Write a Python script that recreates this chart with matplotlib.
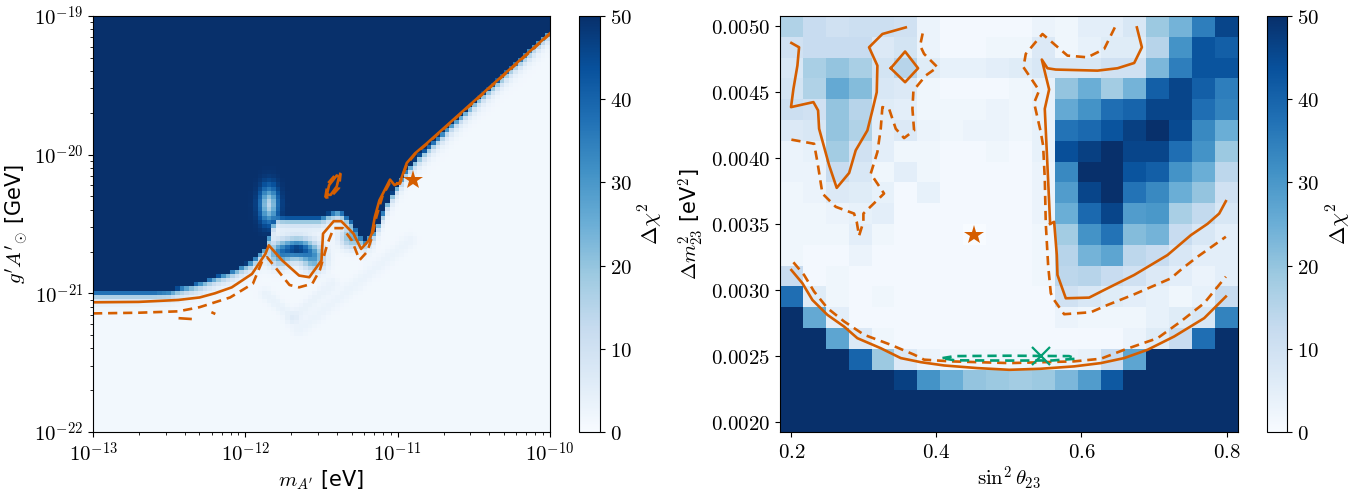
import numpy as np
import matplotlib
matplotlib.use("Agg")
import matplotlib.pyplot as plt
from matplotlib.ticker import FuncFormatter, FixedLocator, NullFormatter

plt.rcParams['mathtext.fontset'] = 'cm'
plt.rcParams['font.family'] = ['DejaVu Sans']
plt.rcParams['font.size'] = 15

ORANGE = '#D55E00'
GREEN = '#029E73'
DASH = (0, (3.5, 2.2))

# ------------------------------------------------------------------
# LEFT PANEL data (log10 m [eV], log10 g [GeV])
edge_lm = [-13.0, -12.6, -12.5, -12.44, -12.3, -12.1, -11.95, -11.87, -11.80,
           -11.65, -11.50, -11.45, -11.38, -11.30, -11.22, -11.15, -11.05,
           -10.95, -10.90, -10.5, -10.0]
edge_lg = [-20.985, -20.985, -20.98, -20.96, -20.92, -20.84, -20.76, -20.66, -20.45,
           -20.45, -20.45, -20.42, -20.40, -20.48, -20.62, -20.55, -20.30,
           -20.12, -20.05, -19.62, -19.10]
# extra structure near the saturated edge: (log m, log g, width m, width g, change)
blobs = [(-11.845, -20.36, 0.04, 0.085, -36.0),
         (-11.66, -20.68, 0.07, 0.05, 45.0),
         (-11.55, -20.75, 0.05, 0.06, 25.0),
         (-11.78, -20.72, 0.05, 0.06, 25.0),
         (-11.30, -20.60, 0.05, 0.05, 22.0)]
# faint shadow bands in the allowed region: (start point, end point, width, value)
faint_bands = [((-11.87, -21.00), (-11.69, -21.18), 0.03, 2.5),
               ((-11.69, -21.18), (-11.43, -20.93), 0.03, 2.5),
               ((-11.65, -21.27), (-10.92, -20.62), 0.035, 2.0)]
background = 1.2

solid_main = [(-13.0, -21.065), (-12.7, -21.062), (-12.44, -21.048), (-12.3, -21.03),
              (-12.2, -21.0), (-12.089, -20.957), (-11.956, -20.86), (-11.868, -20.715),
              (-11.846, -20.654), (-11.758, -20.763), (-11.647, -20.872), (-11.58, -20.884),
              (-11.50, -20.763), (-11.49, -20.57), (-11.42, -20.48), (-11.37, -20.48),
              (-11.29, -20.57), (-11.24, -20.68), (-11.19, -20.62), (-11.17, -20.57),
              (-11.15, -20.45), (-11.12, -20.33), (-11.05, -20.18), (-11.02, -20.22),
              (-10.985, -20.20), (-10.94, -20.06), (-10.885, -19.99), (-10.81, -19.92),
              (-10.0, -19.125)]
dashed_main = [(-13.0, -21.145), (-12.7, -21.14), (-12.44, -21.13), (-12.3, -21.10),
               (-12.1, -21.03), (-11.95, -20.93), (-11.89, -20.77), (-11.857, -20.74),
               (-11.71, -20.94), (-11.647, -20.957), (-11.56, -20.93), (-11.51, -20.83),
               (-11.46, -20.64), (-11.42, -20.53), (-11.36, -20.53), (-11.30, -20.62),
               (-11.25, -20.76), (-11.20, -20.70), (-11.17, -20.60), (-11.14, -20.45),
               (-11.10, -20.30), (-11.05, -20.20), (-10.985, -20.21), (-10.94, -20.07),
               (-10.885, -19.995), (-10.81, -19.925), (-10.0, -19.13)]
solid_island = [(-11.465, -20.29), (-11.45, -20.22), (-11.40, -20.15), (-11.385, -20.16),
                (-11.40, -20.23), (-11.44, -20.29), (-11.465, -20.29)]
dashed_island = [(-11.475, -20.31), (-11.46, -20.21), (-11.40, -20.135), (-11.375, -20.14),
                 (-11.385, -20.24), (-11.44, -20.305), (-11.475, -20.31)]
dashed_blob1 = [(-12.43, -21.18), (-12.36, -21.185)]
dashed_blob2 = [(-12.215, -21.14), (-12.205, -21.145)]
star_left = (-10.90, -20.18)
left_xticks = [1e-13, 1e-12, 1e-11, 1e-10]
left_yticks = [1e-22, 1e-21, 1e-20, 1e-19]

# ------------------------------------------------------------------
# RIGHT PANEL data
sin2_centres = np.linspace(0.2, 0.8, 20)
dm2_centres = np.linspace(0.002, 0.005, 20)
# rows listed from top (dm2 = 0.005) to bottom (dm2 = 0.002)
chi2_rows = [
    [16, 12, 10, 11, 11, 10, 3, 1, 1, 1, 1, 3, 2, 5, 5, 8, 19, 24, 35, 46],
    [10, 12, 12, 12, 7, 9, 3, 1, 1, 2, 2, 7, 2, 4, 6, 6, 15, 31, 43, 41],
    [8, 17, 20, 17, 9, 15, 6, 4, 4, 5, 6, 8, 8, 8, 10, 10, 23, 35, 43, 43],
    [9, 16, 26, 22, 8, 7, 2, 1, 1, 1, 2, 4, 20, 25, 18, 24, 41, 46, 41, 35],
    [11, 10, 20, 15, 6, 5, 2, 2, 2, 3, 2, 4, 26, 31, 38, 40, 46, 46, 38, 34],
    [7, 8, 20, 16, 5, 7, 3, 2, 3, 3, 2, 4, 37, 39, 43, 47, 50, 45, 33, 25],
    [3, 4, 18, 10, 5, 2, 2, 1, 1, 2, 1, 4, 44, 47, 50, 46, 46, 38, 31, 19],
    [3, 3, 12, 8, 2, 5, 2, 1, 1, 1, 1, 3, 33, 50, 50, 43, 41, 31, 25, 14],
    [2, 3, 7, 6, 4, 1, 4, 1, 1, 1, 1, 3, 29, 46, 50, 37, 33, 25, 20, 10],
    [2, 2, 3, 4, 5, 1, 1, 1, 1, 1, 1, 3, 25, 39, 46, 29, 30, 17, 13, 8],
    [2, 2, 2, 5, 2, 1, 1, 1, 0, 1, 1, 2, 18, 31, 37, 22, 24, 12, 8, 5],
    [2, 1, 1, 3, 1, 1, 1, 1, 1, 1, 1, 2, 15, 24, 27, 14, 12, 8, 5, 5],
    [12, 1, 2, 1, 1, 1, 1, 1, 1, 1, 1, 2, 14, 15, 12, 10, 7, 5, 3, 5],
    [38, 6, 2, 1, 2, 1, 1, 1, 1, 1, 1, 1, 10, 8, 6, 5, 4, 2, 4, 12],
    [50, 26, 5, 1, 1, 1, 1, 1, 1, 1, 1, 1, 3, 2, 2, 2, 4, 6, 8, 34],
    [50, 50, 27, 7, 2, 1, 1, 1, 1, 1, 1, 1, 1, 1, 1, 3, 6, 12, 38, 50],
    [50, 50, 50, 40, 19, 7, 3, 2, 2, 2, 2, 2, 3, 4, 12, 27, 50, 50, 50, 50],
    [50, 50, 50, 50, 50, 47, 31, 25, 20, 19, 18, 19, 23, 29, 42, 50, 50, 50, 50, 50],
    [50] * 20,
    [50] * 20,
]
r_solid_tl = [(0.200, 0.004874), (0.2106, 0.004841), (0.2083, 0.004702), (0.2028, 0.004525),
              (0.1995, 0.004387), (0.2304, 0.004425), (0.2368, 0.004362), (0.2382, 0.004223),
              (0.2520, 0.003946), (0.2625, 0.003774), (0.2796, 0.003887), (0.2887, 0.004059),
              (0.3048, 0.004210), (0.3117, 0.004362), (0.3177, 0.004500), (0.3186, 0.004702),
              (0.3071, 0.004841), (0.3255, 0.004942), (0.3577, 0.004992)]
r_solid_diamond = [(0.337, 0.004682), (0.3568, 0.004809), (0.3747, 0.004682),
                   (0.3568, 0.004576), (0.337, 0.004682)]
r_dashed_tl = [(0.200, 0.004140), (0.2313, 0.004109), (0.2359, 0.003970), (0.2428, 0.003731),
               (0.2612, 0.003630), (0.2864, 0.003579), (0.2901, 0.003516), (0.2933, 0.003410),
               (0.2993, 0.003516), (0.2993, 0.003579), (0.3278, 0.003731), (0.3094, 0.003882),
               (0.3186, 0.004046), (0.3232, 0.004223), (0.3255, 0.004387), (0.3347, 0.004374),
               (0.3439, 0.004223), (0.3554, 0.004152), (0.3692, 0.004210), (0.3669, 0.004374),
               (0.3683, 0.004513), (0.3853, 0.004627), (0.4014, 0.004690), (0.3830, 0.004791),
               (0.3775, 0.004854), (0.3821, 0.004975)]
r_solid_right = [(0.5568, 0.003501), (0.5522, 0.004046), (0.5494, 0.004374), (0.5554, 0.004521),
                 (0.5453, 0.004748), (0.5531, 0.004682), (0.5646, 0.004672), (0.6221, 0.004664),
                 (0.6497, 0.004682), (0.6727, 0.004722), (0.6833, 0.004841), (0.6764, 0.004992)]
r_solid_right_low = [(0.5568, 0.003501), (0.5623, 0.003516), (0.5660, 0.003264),
                     (0.5669, 0.003113), (0.5784, 0.002936), (0.6106, 0.002941),
                     (0.6313, 0.002999), (0.6727, 0.003113), (0.7186, 0.003264),
                     (0.7508, 0.003415), (0.7738, 0.003501), (0.7899, 0.003579),
                     (0.7991, 0.003673)]
r_dashed_right = [(0.6460, 0.004992), (0.6313, 0.004828), (0.6083, 0.004765), (0.5807, 0.004778),
                  (0.5462, 0.004942), (0.5232, 0.004791), (0.5200, 0.004690), (0.5324, 0.004589),
                  (0.5416, 0.004513), (0.5347, 0.004419), (0.5439, 0.004197), (0.5471, 0.004096),
                  (0.5494, 0.003844), (0.5508, 0.003501), (0.5540, 0.003188), (0.5577, 0.002974),
                  (0.5623, 0.002923), (0.5761, 0.002815), (0.6129, 0.002830), (0.6359, 0.002885),
                  (0.6727, 0.002966), (0.7232, 0.003087), (0.7393, 0.003163), (0.7600, 0.003251),
                  (0.7991, 0.003403)]
r_solid_bottom = [(0.200, 0.003150), (0.2152, 0.003050), (0.2290, 0.002923), (0.2497, 0.002810),
                  (0.2727, 0.002721), (0.2910, 0.002633), (0.3232, 0.002557), (0.3508, 0.002482),
                  (0.3784, 0.002451), (0.4106, 0.002426), (0.4566, 0.002406), (0.5007, 0.002393),
                  (0.5439, 0.002401), (0.5899, 0.002419), (0.6267, 0.002444), (0.6589, 0.002482),
                  (0.6911, 0.002545), (0.7278, 0.002646), (0.7692, 0.002785), (0.7991, 0.002949)]
r_dashed_bottom = [(0.2028, 0.003209), (0.2175, 0.003113), (0.2313, 0.002987), (0.2497, 0.002861),
                   (0.2727, 0.002760), (0.3002, 0.002659), (0.3370, 0.002583), (0.3692, 0.002508),
                   (0.3830, 0.002470), (0.4198, 0.002457), (0.5007, 0.002444), (0.5899, 0.002457),
                   (0.6267, 0.002477), (0.6589, 0.002545), (0.7049, 0.002633), (0.7370, 0.002760),
                   (0.7692, 0.002899), (0.7991, 0.003100)]
green_contour = [(0.4083, 0.002482), (0.425, 0.002497), (0.50, 0.002500), (0.583, 0.002497),
                 (0.5922, 0.002477), (0.56, 0.002464), (0.50, 0.002463), (0.425, 0.002465),
                 (0.4083, 0.002482)]
star_right = (0.4520, 0.003420)
cross_right = (0.5439, 0.002497)
right_xticks = [0.2, 0.4, 0.6, 0.8]
right_yticks = [0.002, 0.0025, 0.003, 0.0035, 0.004, 0.0045, 0.005]
cbar_ticks = [0, 10, 20, 30, 40, 50]

# ------------------------------------------------------------------
fig = plt.figure(figsize=(13.64, 4.91), dpi=100)
axL = fig.add_axes([0.0682, 0.1202, 0.3350, 0.8473])
caxL = fig.add_axes([0.4245, 0.1202, 0.0154, 0.8473])
axR = fig.add_axes([0.5718, 0.1202, 0.3358, 0.8473])
caxR = fig.add_axes([0.9289, 0.1202, 0.0150, 0.8473])

cmap = plt.get_cmap('Blues')

# ---- left heat map ----
nL = 100
lm_edges = np.linspace(-13, -10, nL + 1)
lg_edges = np.linspace(-22, -19, nL + 1)
lm_c = 0.5 * (lm_edges[1:] + lm_edges[:-1])
lg_c = 0.5 * (lg_edges[1:] + lg_edges[:-1])
LM, LG = np.meshgrid(lm_c, lg_c)
edge = np.interp(LM, edge_lm, edge_lg)
d = LG - edge
Z = np.where(d >= 0, 50.0, background + 48.0 * np.exp(d / 0.035))
for (bx, by, sx, sy, amp) in blobs:
    Z = Z + amp * np.exp(-0.5 * (((LM - bx) / sx) ** 2 + ((LG - by) / sy) ** 2))
for (p0, p1, w, val) in faint_bands:
    p0 = np.array(p0)
    p1 = np.array(p1)
    seg = p1 - p0
    t = np.clip(((LM - p0[0]) * seg[0] + (LG - p0[1]) * seg[1]) / (seg @ seg), 0, 1)
    dist = np.hypot(LM - (p0[0] + t * seg[0]), LG - (p0[1] + t * seg[1]))
    Z = Z + np.where(d < 0, val * np.exp(-0.5 * (dist / w) ** 2), 0)
Z = np.clip(Z, 0, 50)
mesh = axL.pcolormesh(10 ** lm_edges, 10 ** lg_edges, Z, cmap=cmap, vmin=0, vmax=50,
                      shading='flat', rasterized=True)
axL.set_xscale('log')
axL.set_yscale('log')
axL.set_xlim(1e-13, 1e-10)
axL.set_ylim(1e-22, 1e-19)


def draw_curve(ax, pts, ls, color=ORANGE, lw=1.9, logc=True):
    a = np.array(pts)
    if logc:
        ax.plot(10 ** a[:, 0], 10 ** a[:, 1], ls=ls, color=color, lw=lw)
    else:
        ax.plot(a[:, 0], a[:, 1], ls=ls, color=color, lw=lw)


draw_curve(axL, solid_main, '-')
draw_curve(axL, dashed_main, DASH)
draw_curve(axL, solid_island, '-')
draw_curve(axL, dashed_island, DASH)
draw_curve(axL, dashed_blob1, '-')
draw_curve(axL, dashed_blob2, '-')
axL.plot(10 ** star_left[0], 10 ** star_left[1], marker='*', color=ORANGE, ms=15, mew=0)

pow_fmt = FuncFormatter(lambda v, p: r'$10^{%d}$' % int(round(np.log10(v))))
minor_x = [k * 10.0 ** e for e in (-13, -12, -11) for k in range(2, 10)]
minor_y = [k * 10.0 ** e for e in (-22, -21, -20) for k in range(2, 10)]
axL.xaxis.set_major_locator(FixedLocator(left_xticks))
axL.yaxis.set_major_locator(FixedLocator(left_yticks))
axL.xaxis.set_minor_locator(FixedLocator(minor_x))
axL.yaxis.set_minor_locator(FixedLocator(minor_y))
axL.xaxis.set_major_formatter(pow_fmt)
axL.yaxis.set_major_formatter(pow_fmt)
axL.xaxis.set_minor_formatter(NullFormatter())
axL.yaxis.set_minor_formatter(NullFormatter())
axL.set_xlabel(r"$m_{A'}$ [eV]", fontsize=15, labelpad=2)
axL.set_ylabel(r"$g' A'_{\odot}$ [GeV]", fontsize=15, labelpad=2)

cbL = fig.colorbar(mesh, cax=caxL)
cbL.set_ticks(cbar_ticks)
cbL.set_ticklabels([r'$%d$' % t for t in cbar_ticks])
cbL.set_label(r'$\Delta\chi^2$', fontsize=16)
cbL.outline.set_linewidth(0.8)

# ---- right heat map ----
Zr = np.array(chi2_rows, dtype=float)[::-1]
dx = sin2_centres[1] - sin2_centres[0]
dy = dm2_centres[1] - dm2_centres[0]
xe = np.concatenate([sin2_centres - dx / 2, [sin2_centres[-1] + dx / 2]])
ye = np.concatenate([dm2_centres - dy / 2, [dm2_centres[-1] + dy / 2]])
meshR = axR.pcolormesh(xe, ye, Zr, cmap=cmap, vmin=0, vmax=50, shading='flat')
for pts in (r_solid_tl, r_solid_diamond, r_solid_right, r_solid_right_low, r_solid_bottom):
    draw_curve(axR, pts, '-', logc=False)
for pts in (r_dashed_tl, r_dashed_right, r_dashed_bottom):
    draw_curve(axR, pts, DASH, logc=False)
draw_curve(axR, green_contour, DASH, color=GREEN, logc=False)
axR.plot(*star_right, marker='*', color=ORANGE, ms=15, mew=0)
axR.plot(*cross_right, marker='x', color=GREEN, ms=13, mew=1.6)
axR.set_xlim(xe[0], xe[-1])
axR.set_ylim(ye[0], ye[-1])
axR.xaxis.set_major_locator(FixedLocator(right_xticks))
axR.xaxis.set_major_formatter(FuncFormatter(lambda v, p: r'$%.1f$' % v))
axR.yaxis.set_major_locator(FixedLocator(right_yticks))
axR.yaxis.set_major_formatter(FuncFormatter(lambda v, p: r'$%.4f$' % v))
axR.set_xlabel(r'$\sin^2\theta_{23}$', fontsize=15, labelpad=2)
axR.set_ylabel(r'$\Delta m^2_{23}$ [eV$^2$]', fontsize=15)

cbR = fig.colorbar(meshR, cax=caxR)
cbR.set_ticks(cbar_ticks)
cbR.set_ticklabels([r'$%d$' % t for t in cbar_ticks])
cbR.set_label(r'$\Delta\chi^2$', fontsize=16)
cbR.outline.set_linewidth(0.8)

for ax in (axL, axR, caxL, caxR):
    ax.tick_params(labelsize=15)

fig.savefig('out.png', dpi=100)
